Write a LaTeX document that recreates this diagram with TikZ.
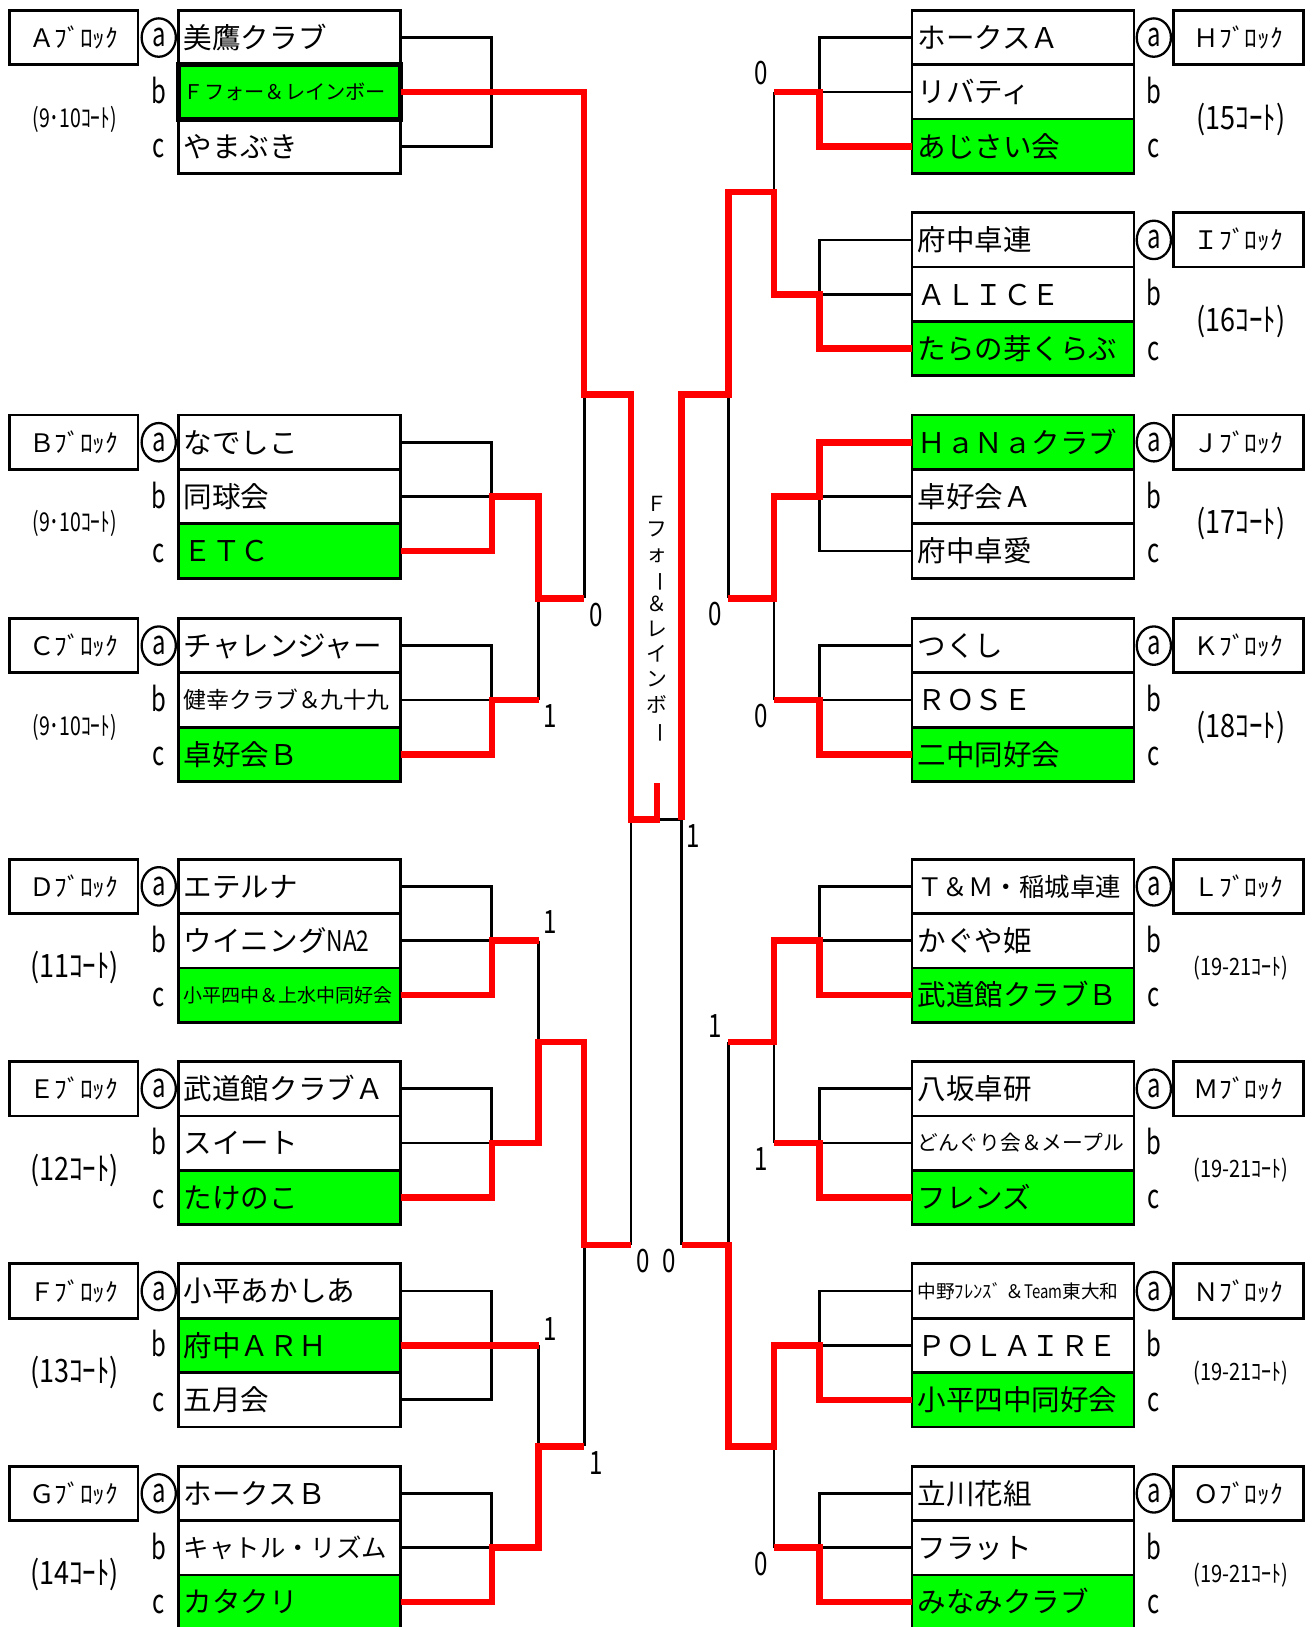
\documentclass[tikz,border=0pt]{standalone}
\usepackage{fontspec}
\usepackage{graphicx}
\newfontfamily\jp{Noto Sans CJK JP}
\usetikzlibrary{shapes.geometric}
\definecolor{win}{RGB}{0,255,0}
\definecolor{lred}{RGB}{255,0,0}
\newcommand\fz[1]{\fontsize{#1pt}{#1pt}\selectfont\vrule height 0.88em depth 0.12em width 0pt\relax}
\newcommand\sqz[2]{\scalebox{#1}[1]{#2}}
\tikzset{
  rowbox/.style={draw, line width=2.6pt, minimum width=214pt, minimum height=52.4pt, inner sep=0pt, outer sep=0pt, anchor=north west},
  lab/.style={draw, line width=2.6pt, minimum width=124pt, minimum height=52.4pt, inner sep=0pt, outer sep=0pt, anchor=north west, font=\jp\fontsize{24.5pt}{24.5pt}\selectfont},
  nm/.style={anchor=west, inner sep=0pt, font=\jp},
  circ/.style={ellipse, draw, line width=2.2pt, minimum width=33pt, minimum height=37pt, inner sep=0pt, fill=white, font=\jp\fontsize{32pt}{32pt}\selectfont},
  ltr/.style={anchor=base, inner sep=0pt, font=\jp\fontsize{32pt}{32pt}\selectfont},
  crt/.style={inner sep=0pt, font=\jp},
  score/.style={inner sep=0pt, font=\jp\fontsize{31pt}{31pt}\selectfont},
  bl/.style={line width=2.6pt, line join=miter, black},
  rd/.style={line width=6.3pt, line join=miter, lred},
}
% #1 extra style, #2 name, #3 x, #4 top y, #5 fill, #6 size, #7 text
\newcommand\trow[7][]{%
  \node[rowbox, fill=#5, #1] (#2) at (#3,#4) {};
  \node[nm] (#2t) at ([xshift=5pt]#2.west) {\fz{#6}#7};
}
\newcommand\lblock[4]{%
  \node[lab] (#1lab) at (9,#2) {#3};
  \node[ltr] (#1cb) at (153,#2+89.6) {\sqz{0.72}{b}};
  \node[ltr] (#1cc) at (153,#2+142) {\sqz{0.72}{c}};
  \node[crt] (#1crt) at (72,#2+104.8) {#4};
}
\newcommand\rblock[4]{%
  \node[lab, minimum width=125pt] (#1lab) at (1131,#2) {#3};
  \node[ltr] (#1cb) at (1112,#2+89.6) {\sqz{0.72}{b}};
  \node[ltr] (#1cc) at (1112,#2+142) {\sqz{0.72}{c}};
  \node[crt] (#1crt) at (1196,#2+104.8) {#4};
}
\newcommand\cta{{\fontsize{25pt}{25pt}\selectfont\sqz{0.75}{(9･10ｺｰﾄ)}}}
\newcommand\ctb[1]{{\fontsize{31pt}{31pt}\selectfont\sqz{0.84}{(#1ｺｰﾄ)}}}
\newcommand\ctc{{\fontsize{23pt}{23pt}\selectfont\sqz{0.84}{(19-21ｺｰﾄ)}}}
\newcommand\scr[1]{\sqz{0.75}{#1}}
\begin{document}
\begin{tikzpicture}[x=1pt,y=-1pt]
\useasboundingbox (0,0) rectangle (1264,1568);
% ---------- left team boxes ----------
\trow{A1}{172}{10}{white}{27.5}{美鷹クラブ}
\trow{A2}{172}{62.4}{win}{19.5}{Ｆフォー＆レインボー}
\trow{A3}{172}{114.8}{white}{27.5}{やまぶき}
\trow{B1}{172}{400}{white}{27.5}{なでしこ}
\trow{B2}{172}{452.4}{white}{27.5}{同球会}
\trow{B3}{172}{504.8}{win}{27.5}{ＥＴＣ}
\trow{C1}{172}{596}{white}{27.5}{チャレンジャー}
\trow{C2}{172}{648.4}{white}{22}{健幸クラブ＆九十九}
\trow{C3}{172}{700.8}{win}{27.5}{卓好会Ｂ}
\trow{D1}{172}{828}{white}{27.5}{エテルナ}
\trow{D2}{172}{880.4}{white}{27.5}{ウイニング\sqz{0.8}{NA2}}
\trow{D3}{172}{932.8}{win}{18.3}{小平四中＆上水中同好会}
\trow{E1}{172}{1023}{white}{27.5}{武道館クラブＡ}
\trow{E2}{172}{1075.4}{white}{27.5}{スイート}
\trow{E3}{172}{1127.8}{win}{27.5}{たけのこ}
\trow{F1}{172}{1218}{white}{27.5}{小平あかしあ}
\trow{F2}{172}{1270.4}{win}{27.5}{府中ＡＲＨ}
\trow{F3}{172}{1322.8}{white}{27.5}{五月会}
\trow{G1}{172}{1413}{white}{27.5}{ホークスＢ}
\trow{G2}{172}{1465.4}{white}{24.5}{キャトル・リズム}
\trow{G3}{172}{1517.8}{win}{27.5}{カタクリ}
\draw[line width=4.6pt] (A2.north west) rectangle (A2.south east);
% ---------- right team boxes ----------
\trow{H1}{879}{10}{white}{27.5}{ホークスＡ}
\trow{H2}{879}{62.4}{white}{27.5}{リバティ}
\trow{H3}{879}{114.8}{win}{27.5}{あじさい会}
\trow{I1}{879}{205}{white}{27.5}{府中卓連}
\trow{I2}{879}{257.4}{white}{27.5}{ＡＬＩＣＥ}
\trow{I3}{879}{309.8}{win}{27.5}{たらの芽くらぶ}
\trow{J1}{879}{400}{win}{27.5}{ＨａＮａクラブ}
\trow{J2}{879}{452.4}{white}{27.5}{卓好会Ａ}
\trow{J3}{879}{504.8}{white}{27.5}{府中卓愛}
\trow{K1}{879}{596}{white}{27.5}{つくし}
\trow{K2}{879}{648.4}{white}{27.5}{ＲＯＳＥ}
\trow{K3}{879}{700.8}{win}{27.5}{二中同好会}
\trow{L1}{879}{828}{white}{24.5}{Ｔ＆Ｍ・稲城卓連}
\trow{L2}{879}{880.4}{white}{27.5}{かぐや姫}
\trow{L3}{879}{932.8}{win}{27.5}{武道館クラブＢ}
\trow{M1}{879}{1023}{white}{27.5}{八坂卓研}
\trow{M2}{879}{1075.4}{white}{20}{どんぐり会＆メープル}
\trow{M3}{879}{1127.8}{win}{27.5}{フレンズ}
\trow{N1}{879}{1218}{white}{18}{中野ﾌﾚﾝｽﾞ ＆\sqz{0.8}{Team}東大和}
\trow{N2}{879}{1270.4}{white}{27.5}{ＰＯＬＡＩＲＥ}
\trow{N3}{879}{1322.8}{win}{27.5}{小平四中同好会}
\trow{O1}{879}{1413}{white}{27.5}{立川花組}
\trow{O2}{879}{1465.4}{white}{27.5}{フラット}
\trow{O3}{879}{1517.8}{win}{27.5}{みなみクラブ}
% ---------- block labels ----------
\lblock{A}{10}{Ａﾌﾞﾛｯｸ}{\cta}
\lblock{B}{400}{Ｂﾌﾞﾛｯｸ}{\cta}
\lblock{C}{596}{Ｃﾌﾞﾛｯｸ}{\cta}
\lblock{D}{828}{Ｄﾌﾞﾛｯｸ}{\ctb{11}}
\lblock{E}{1023}{Ｅﾌﾞﾛｯｸ}{\ctb{12}}
\lblock{F}{1218}{Ｆﾌﾞﾛｯｸ}{\ctb{13}}
\lblock{G}{1413}{Ｇﾌﾞﾛｯｸ}{\ctb{14}}
\rblock{H}{10}{Ｈﾌﾞﾛｯｸ}{\ctb{15}}
\rblock{I}{205}{Ｉﾌﾞﾛｯｸ}{\ctb{16}}
\rblock{J}{400}{Ｊﾌﾞﾛｯｸ}{\ctb{17}}
\rblock{K}{596}{Ｋﾌﾞﾛｯｸ}{\ctb{18}}
\rblock{L}{828}{Ｌﾌﾞﾛｯｸ}{\ctc}
\rblock{M}{1023}{Ｍﾌﾞﾛｯｸ}{\ctc}
\rblock{N}{1218}{Ｎﾌﾞﾛｯｸ}{\ctc}
\rblock{O}{1413}{Ｏﾌﾞﾛｯｸ}{\ctc}
\foreach \X/\T in {A/10,B/400,C/596,D/828,E/1023,F/1218,G/1413}
  \node[circ] (\X ca) at (153,\T+26.2) {\sqz{0.72}{a}};
\foreach \X/\T in {H/10,I/205,J/400,K/596,L/828,M/1023,N/1218,O/1413}
  \node[circ] (\X ca) at (1112,\T+26.2) {\sqz{0.72}{a}};
% ---------- columns and junctions ----------
\coordinate (cL1) at (474,0); \coordinate (cL2) at (519,0);
\coordinate (cL3) at (563,0); \coordinate (cL4) at (608,0);
\coordinate (cR1) at (790,0); \coordinate (cR2) at (746,0);
\coordinate (cR3) at (702,0); \coordinate (cR4) at (657,0);
\coordinate (mA) at (563,380); \coordinate (mBC) at (519,576.6);
\coordinate (mDE) at (519,1004); \coordinate (mFG) at (519,1394);
\coordinate (mDEFG) at (563,1200);
\coordinate (fin) at (633,790); \coordinate (champ) at (633,755);
\coordinate (mHI) at (746,185); \coordinate (mJK) at (746,576.6);
\coordinate (mHIJK) at (702,380);
\coordinate (mLM) at (746,1004); \coordinate (mNO) at (746,1394);
\coordinate (mLMNO) at (702,1200);
% ---------- black bracket lines ----------
\foreach \X in {A,B,C,D,E,F,G} {
  \draw[bl] (\X1.east) -- (\X1.east -| cL1) -- (\X3.east -| cL1) -- (\X3.east);
  \draw[bl] (\X2.east) -- (\X2.east -| cL1);
}
\foreach \X in {H,I,J,K,L,M,N,O} {
  \draw[bl] (\X1.west) -- (\X1.west -| cR1) -- (\X3.west -| cR1) -- (\X3.west);
  \draw[bl] (\X2.west) -- (\X2.west -| cR1);
}
\draw[bl] (mA) -- (mBC -| cL3);
\draw[bl] (mBC) -- (C2.east -| cL2);
\draw[bl] (D2.east -| cL2) -- (mDE);
\draw[bl] (F2.east -| cL2) -- (mFG);
\draw[bl] (mFG -| cL3) -- (mDEFG);
\draw[bl] (fin -| cL4) -- (mDEFG -| cL4);
\draw[bl] (fin) -- (fin -| cR4);
\draw[bl] (H2.west -| cR2) -- (mHI);
\draw[bl] (mHIJK) -- (mJK -| cR3);
\draw[bl] (mJK) -- (K2.west -| cR2);
\draw[bl] (fin -| cR4) -- (mLMNO -| cR4);
\draw[bl] (mLM -| cR3) -- (mLMNO);
\draw[bl] (mLM) -- (M2.west -| cR2);
\draw[bl] (mNO) -- (O2.west -| cR2);
% ---------- red winner lines ----------
\draw[rd] (A2.east) -- (A2.east -| cL3) -- (mA) -- (mA -| cL4) -- (fin -| cL4) -- (fin) -- (champ);
\draw[rd] (B3.east) -- (B3.east -| cL1) -- (B2.east -| cL1) -- (B2.east -| cL2) -- (mBC) -- (mBC -| cL3);
\draw[rd] (C3.east) -- (C3.east -| cL1) -- (C2.east -| cL1) -- (C2.east -| cL2);
\draw[rd] (D3.east) -- (D3.east -| cL1) -- (D2.east -| cL1) -- (D2.east -| cL2);
\draw[rd] (E3.east) -- (E3.east -| cL1) -- (E2.east -| cL1) -- (E2.east -| cL2) -- (mDE) -- (mDE -| cL3) -- (mDEFG) -- (mDEFG -| cL4);
\draw[rd] (F2.east) -- (F2.east -| cL2);
\draw[rd] (G3.east) -- (G3.east -| cL1) -- (G2.east -| cL1) -- (G2.east -| cL2) -- (mFG) -- (mFG -| cL3);
\draw[rd] (H3.west) -- (H3.west -| cR1) -- (H2.west -| cR1) -- (H2.west -| cR2);
\draw[rd] (I3.west) -- (I3.west -| cR1) -- (I2.west -| cR1) -- (I2.west -| cR2) -- (mHI) -- (mHI -| cR3) -- (mHIJK) -- (mHIJK -| cR4) -- (fin -| cR4);
\draw[rd] (J1.west) -- (J1.west -| cR1) -- (J2.west -| cR1) -- (J2.west -| cR2) -- (mJK) -- (mJK -| cR3);
\draw[rd] (K3.west) -- (K3.west -| cR1) -- (K2.west -| cR1) -- (K2.west -| cR2);
\draw[rd] (L3.west) -- (L3.west -| cR1) -- (L2.west -| cR1) -- (L2.west -| cR2) -- (mLM) -- (mLM -| cR3);
\draw[rd] (M3.west) -- (M3.west -| cR1) -- (M2.west -| cR1) -- (M2.west -| cR2);
\draw[rd] (N3.west) -- (N3.west -| cR1) -- (N2.west -| cR1) -- (N2.west -| cR2) -- (mNO) -- (mNO -| cR3) -- (mLMNO) -- (mLMNO -| cR4);
\draw[rd] (O3.west) -- (O3.west -| cR1) -- (O2.west -| cR1) -- (O2.west -| cR2);
% ---------- scores ----------
\node[score] (s1) at (575,593) {\scr{0}};
\node[score] (s2) at (530,690) {\scr{1}};
\node[score] (s3) at (530,889) {\scr{1}};
\node[score] (s4) at (530,1281) {\scr{1}};
\node[score] (s5) at (575,1410) {\scr{1}};
\node[score] (s6) at (620,1215) {\scr{0}};
\node[score] (s7) at (645,1215) {\scr{0}};
\node[score] (s8) at (668,806) {\scr{1}};
\node[score] (s9) at (734,70) {\scr{0}};
\node[score] (s10) at (689,592) {\scr{0}};
\node[score] (s11) at (734,690) {\scr{0}};
\node[score] (s12) at (689,989) {\scr{1}};
\node[score] (s13) at (734,1117) {\scr{1}};
\node[score] (s14) at (734,1507) {\scr{0}};
% ---------- champion (vertical) ----------
\node[inner sep=0pt, align=center, font=\jp\fontsize{20pt}{24.2pt}\selectfont] (title) at (633,597)
  {Ｆ\\フ\\ォ\\\rotatebox[origin=c]{-90}{ー}\\＆\\レ\\イ\\ン\\ボ\\\rotatebox[origin=c]{-90}{ー}};
\end{tikzpicture}
\end{document}
